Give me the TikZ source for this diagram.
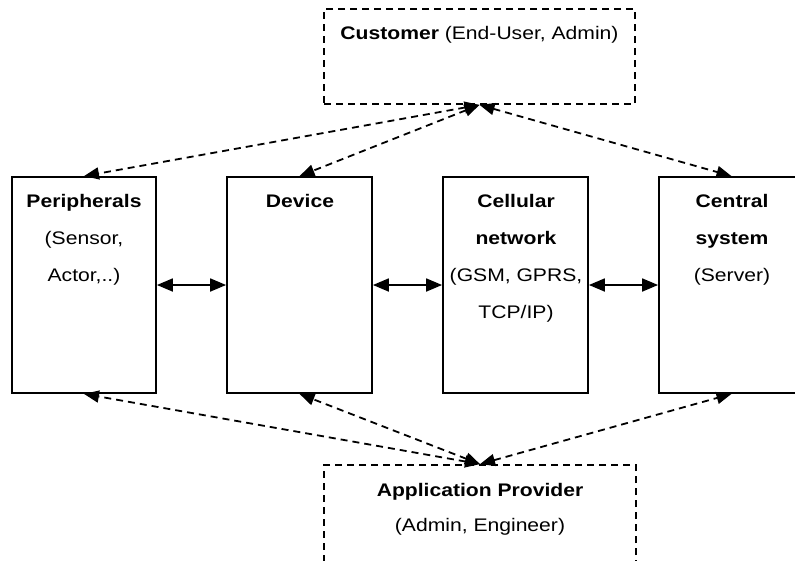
\documentclass[tikz,border=0pt]{standalone}
\usepackage{fontspec}
\setmainfont{Liberation Sans}[FakeStretch=1.16]
\usetikzlibrary{arrows.meta}

\begin{document}
\begin{tikzpicture}[x=1pt, y=-1pt,
  every node/.style={font=\fontsize{18.2}{37}\selectfont},
  boxsolid/.style={draw, line width=1.8pt, fill=white, inner sep=0pt},
  boxdashed/.style={draw, line width=1.8pt, dash pattern=on 7pt off 5pt, inner sep=0pt},
  boxtext/.style={anchor=north, inner sep=0pt, align=center},
  linkarrow/.style={line width=1.8pt, {Triangle[length=16pt,width=13pt]}-{Triangle[length=16pt,width=13pt]}},
  rolearrow/.style={line width=1.8pt, dash pattern=on 7pt off 5pt,
    {Triangle[length=15pt,width=12pt]}-{Triangle[length=15pt,width=12pt]}}
]
\useasboundingbox (0,0) rectangle (795,560);
\clip (0,0) rectangle (795,560);

% actors
\node[boxdashed, minimum width=311pt, minimum height=95pt] (cust) at (479.5,56.5) {};
\node[boxdashed, minimum width=312pt, minimum height=102pt] (app) at (480,516) {};

% system components
\node[boxsolid, minimum width=144pt, minimum height=216pt] (per) at (84,285) {};
\node[boxsolid, minimum width=145pt, minimum height=216pt] (dev) at (299.5,285) {};
\node[boxsolid, minimum width=145pt, minimum height=216pt] (cell) at (515.5,285) {};
\node[boxsolid, minimum width=145pt, minimum height=216pt] (cent) at (731.5,285) {};

% labels
\node[boxtext] (custtext) at (479.5,26.3) {\textbf{Customer} (End-User, Admin)};
\node[boxtext, font=\fontsize{18.2}{35}\selectfont] (apptext) at (480,483) {\textbf{Application Provider}\\(Admin, Engineer)};
\node[boxtext] (pertext) at (84,194) {\textbf{Peripherals}\\(Sensor,\\Actor,..)};
\node[boxtext] (devtext) at (300,194) {\textbf{Device}};
\node[boxtext] (celltext) at (516,194) {\textbf{Cellular}\\\textbf{network}\\(GSM, GPRS,\\TCP/IP)};
\node[boxtext] (centtext) at (732,194) {\textbf{Central}\\\textbf{system}\\(Server)};

% data links
\draw[linkarrow] (per.east) -- (dev.west);
\draw[linkarrow] (dev.east) -- (cell.west);
\draw[linkarrow] (cell.east) -- (cent.west);

% user interactions
\draw[rolearrow] (cust.south) -- (per.north);
\draw[rolearrow] (cust.south) -- (dev.north);
\draw[rolearrow] (cust.south) -- (cent.north);
\draw[rolearrow] (app.north) -- (per.south);
\draw[rolearrow] (app.north) -- (dev.south);
\draw[rolearrow] (app.north) -- (cent.south);
\end{tikzpicture}
\end{document}
